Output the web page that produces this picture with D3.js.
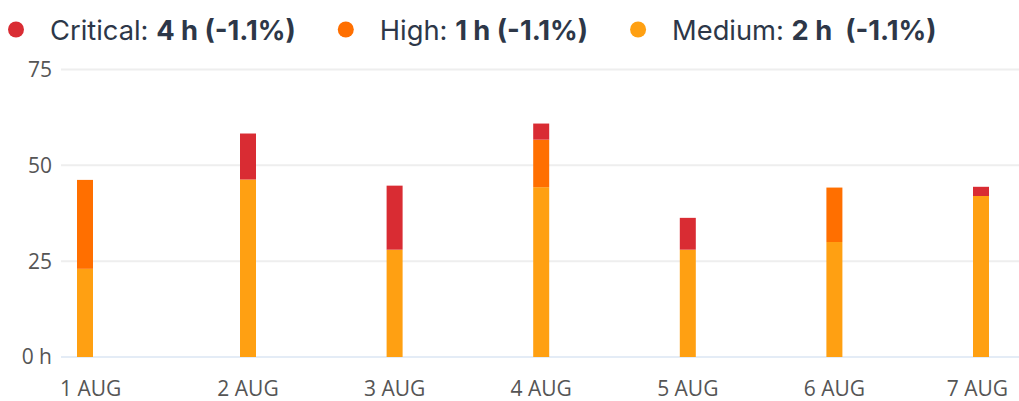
<!DOCTYPE html>
<html>
<head>
<meta charset="utf-8">
<script src="https://cdn.jsdelivr.net/npm/d3@7"></script>
<style>
  body { margin: 0; background: #fff; }
  svg { display: block; }
</style>
</head>
<body>
<svg id="chart" width="1019" height="401"></svg>
<script>
// Datos
var dias = ["1 AUG", "2 AUG", "3 AUG", "4 AUG", "5 AUG", "6 AUG", "7 AUG"];
var medium = [23, 46.3, 28, 44.3, 28, 30, 42];
var high = [23.2, 0, 0, 12.4, 0, 14.2, 0];
var critical = [0, 12, 16.7, 4.2, 8.3, 0, 2.4];
var yTicks = [0, 25, 50, 75];
var leyenda = [
    { nombre: "Critical: ", valor: "4 h (-1.1%)" },
    { nombre: "High: ", valor: "1 h (-1.1%)" },
    { nombre: "Medium: ", valor: "2 h  (-1.1%)" }
];
var series = ["medium", "high", "critical"];
var colores = { critical: "#d92c33", high: "#ff6f00", medium: "#ffa012" };

var svg = d3.select("#chart");

// Tabla para el stack
var tabla = dias.map(function(d, i) {
    return { dia: d, i: i, medium: medium[i], high: high[i], critical: critical[i] };
});

var y = d3.scaleLinear().domain([0, 75]).range([357, 69.5]);
// escala x por índice (el primer día queda algo más a la izquierda)
var x = d3.scaleLinear().domain([0, 1, 6]).range([85, 248, 981]);

// Rejilla
svg.append("g").selectAll("line")
    .data(yTicks)
    .enter().append("line")
    .attr("x1", 61).attr("x2", 1019)
    .attr("y1", d => y(d)).attr("y2", d => y(d))
    .attr("stroke", d => d === 0 ? "#e4ecf6" : "#eeeeee")
    .attr("stroke-width", 2);

// Etiquetas del eje y
svg.append("g").selectAll("text")
    .data(yTicks)
    .enter().append("text")
    .attr("x", 52)
    .attr("y", d => y(d))
    .attr("dy", "0.35em")
    .attr("text-anchor", "end")
    .attr("font-family", "'Open Sans', sans-serif")
    .attr("font-size", 21)
    .attr("fill", "#555")
    .text(d => d === 0 ? "0 h" : d);

// Barras apiladas
var stack = d3.stack().keys(series)(tabla);
svg.append("g").selectAll("g")
    .data(stack)
    .enter().append("g")
    .attr("fill", d => colores[d.key])
    .selectAll("rect")
    .data(d => d.filter(s => s[1] - s[0] > 0))
    .enter().append("rect")
    .attr("x", d => x(d.data.i) - 8)
    .attr("width", 16)
    .attr("y", d => y(d[1]))
    .attr("height", d => y(d[0]) - y(d[1]));

// Etiquetas del eje x (ajustadas para no salirse)
var etiquetas = svg.append("g").selectAll("text")
    .data(tabla)
    .enter().append("text")
    .attr("y", 396)
    .attr("text-anchor", "middle")
    .attr("font-family", "'Open Sans', sans-serif")
    .attr("font-size", 21)
    .attr("fill", "#555")
    .text(d => d.dia);
etiquetas.attr("x", function(d) {
    var w = this.getComputedTextLength();
    return Math.max(60 + w / 2, Math.min(1008 - w / 2, x(d.i)));
});

// Leyenda
var lx = 16;
leyenda.forEach(function(item, i) {
    var key = ["critical", "high", "medium"][i];
    svg.append("circle")
        .attr("cx", lx).attr("cy", 29.5).attr("r", 8)
        .attr("fill", colores[key]);
    var t = svg.append("text")
        .attr("x", lx + 34)
        .attr("y", 39.5)
        .attr("font-family", "Inter, sans-serif")
        .attr("font-size", 27.3)
        .attr("fill", "#2d3748")
        .style("white-space", "pre");
    t.append("tspan").text(item.nombre);
    t.append("tspan").attr("font-weight", "bold").text(item.valor);
    lx = lx + 34 + t.node().getComputedTextLength() + 50;
});
</script>
</body>
</html>
